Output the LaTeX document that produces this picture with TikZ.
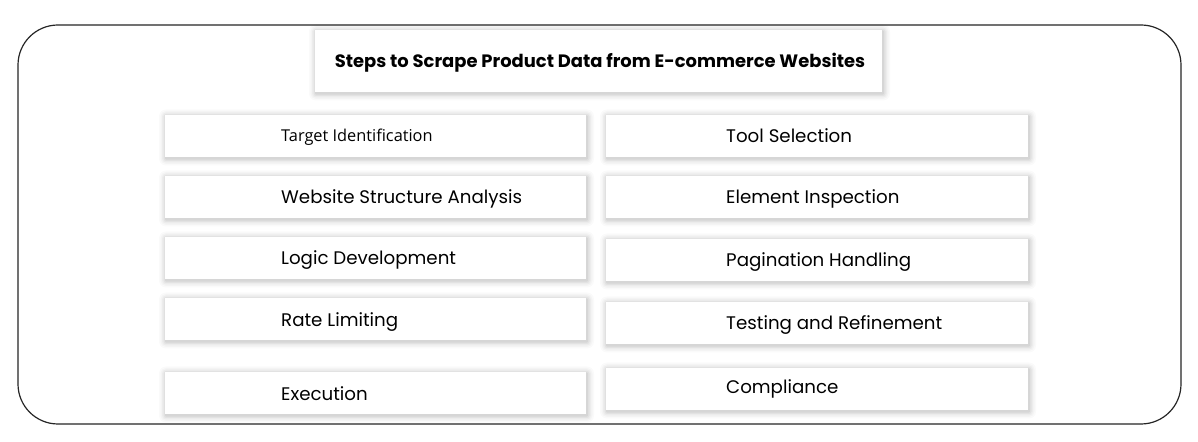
\documentclass[tikz,border=0pt]{standalone}
\usepackage{fontspec}
\setmainfont{Poppins}
\newfontfamily\opensans{Open Sans}
\tikzset{
  stepbox/.style={fill=white, draw=none, anchor=north west, inner sep=0pt},
  lbl/.style={anchor=west, font=\fontsize{18.3}{22}\selectfont, text=black, inner sep=0pt},
}
\newcommand\shbox[5]{%
  \foreach \d/\o in {7/0.018,5.5/0.022,4/0.03,2.5/0.04,1.2/0.05}{%
    \fill[black, opacity=\o, rounded corners=\d bp] ({#2-\d+1},{#3-\d+1.5}) rectangle ({#2+#4+\d+1},{#3+#5+\d+1.5});
  }%
  \node[stepbox, minimum width=#4 bp, minimum height=#5 bp] (#1) at (#2,#3) {};
}
\begin{document}
\begin{tikzpicture}[x=1bp,y=-1bp]
\useasboundingbox (0,0) rectangle (1198,442);
\fill[white] (0,0) rectangle (1198,442);
\draw[line width=1.2bp, draw=black!85, rounded corners=40bp] (18,25) rectangle (1181,424);
% title
\shbox{title}{315}{30}{567}{62}
\node[font=\bfseries\fontsize{18}{22}\selectfont, inner sep=0pt] (titletxt) at (600,63) {Steps to Scrape Product Data from E-commerce Websites};
% left column
\shbox{b1}{165}{115}{421}{42}
\shbox{b2}{165}{176}{421}{42}
\shbox{b3}{165}{237}{421}{42}
\shbox{b4}{165}{298}{421}{42}
\shbox{b5}{165}{372}{421}{42}
% right column
\shbox{c1}{606}{115}{422}{42}
\shbox{c2}{606}{176}{422}{42}
\shbox{c3}{606}{239}{422}{42}
\shbox{c4}{606}{302}{422}{42}
\shbox{c5}{606}{368}{422}{42}
% labels
\node[lbl, font=\opensans\fontsize{16.4}{20}\selectfont] (t1) at (281,137) {Target Identification};
\node[lbl] (t2) at (281,199) {Website Structure Analysis};
\node[lbl] (t3) at (281,260) {Logic Development};
\node[lbl] (t4) at (281,322) {Rate Limiting};
\node[lbl] (t5) at (281,394) {Execution};
\node[lbl] (u1) at (726,136) {Tool Selection};
\node[lbl] (u2) at (726,199) {Element Inspection};
\node[lbl] (u3) at (726,262) {Pagination Handling};
\node[lbl] (u4) at (726,325) {Testing and Refinement};
\node[lbl] (u5) at (726,389) {Compliance};
\end{tikzpicture}
\end{document}
